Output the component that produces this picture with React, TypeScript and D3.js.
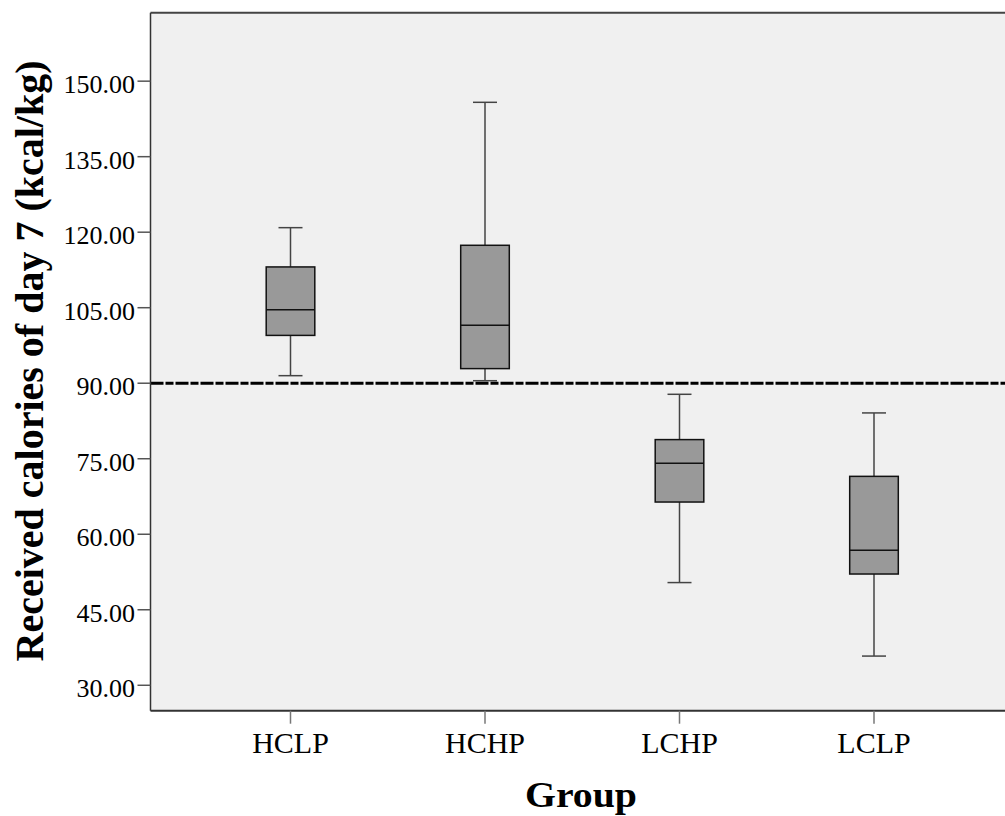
import React from 'react';
import * as d3 from 'd3';

const groups = ['HCLP', 'HCHP', 'LCHP', 'LCLP'];
const whiskerLow = [91.5, 90.5, 50.4, 35.8];
const q1 = [99.5, 92.9, 66.4, 52.1];
const medians = [104.6, 101.5, 74.1, 56.8];
const q3 = [113.1, 117.4, 78.8, 71.5];
const whiskerHigh = [120.9, 145.8, 87.8, 84.1];
const yTicks = [30, 45, 60, 75, 90, 105, 120, 135, 150];
const referenceLine = 90;

const W = 1005;
const H = 816;
const plot = { left: 150.5, top: 12.7, right: 1015, bottom: 710.7 };
const font = '"Liberation Serif", "Times New Roman", serif';

const App = () => {
  const y = d3.scaleLinear().domain([24.95, 163.6]).range([plot.bottom, plot.top]);
  const x = d3.scalePoint<string>().domain(groups).range([290.5, 874]);
  const boxW = 48.6;
  const capW = 24;

  const boxes = groups.map((g, i) => ({
    g,
    lo: whiskerLow[i],
    q1: q1[i],
    med: medians[i],
    q3: q3[i],
    hi: whiskerHigh[i],
  }));

  return (
    <svg width={W} height={H} style={{ position: 'absolute', left: 0, top: 0, background: '#fff' }}>
      {/* plot background */}
      <rect x={plot.left} y={plot.top} width={plot.right - plot.left} height={plot.bottom - plot.top} fill="#f0f0f0" />

      {/* boxes */}
      {boxes.map(b => {
        const cx = x(b.g) as number;
        return (
          <g key={b.g}>
            <line x1={cx} x2={cx} y1={y(b.hi)} y2={y(b.q3)} stroke="#444" strokeWidth={1.5} />
            <line x1={cx} x2={cx} y1={y(b.q1)} y2={y(b.lo)} stroke="#444" strokeWidth={1.5} />
            <line x1={cx - capW / 2} x2={cx + capW / 2} y1={y(b.hi)} y2={y(b.hi)} stroke="#444" strokeWidth={1.5} />
            <line x1={cx - capW / 2} x2={cx + capW / 2} y1={y(b.lo)} y2={y(b.lo)} stroke="#444" strokeWidth={1.5} />
            <rect x={cx - boxW / 2} y={y(b.q3)} width={boxW} height={y(b.q1) - y(b.q3)} fill="#999" stroke="#111" strokeWidth={1.5} />
            <line x1={cx - boxW / 2} x2={cx + boxW / 2} y1={y(b.med)} y2={y(b.med)} stroke="#111" strokeWidth={1.5} />
          </g>
        );
      })}

      {/* reference line */}
      <line
        x1={plot.left}
        x2={plot.right}
        y1={y(referenceLine)}
        y2={y(referenceLine)}
        stroke="#000"
        strokeWidth={3}
        strokeDasharray="13 2 8 2"
      />

      {/* frame */}
      <line x1={plot.left} x2={plot.right} y1={plot.top} y2={plot.top} stroke="#444" strokeWidth={2} />
      <line x1={plot.left} x2={plot.right} y1={plot.bottom} y2={plot.bottom} stroke="#333" strokeWidth={2} />
      <line x1={plot.left} x2={plot.left} y1={plot.top} y2={plot.bottom} stroke="#333" strokeWidth={1.5} />

      {/* y ticks */}
      {yTicks.map(t => (
        <g key={t}>
          <line x1={plot.left - 13} x2={plot.left} y1={y(t)} y2={y(t)} stroke="#555" strokeWidth={1.5} />
          <text x={135} y={y(t) + 12} textAnchor="end" fontFamily={font} fontSize={26} fill="#000">
            {d3.format('.2f')(t)}
          </text>
        </g>
      ))}

      {/* x ticks */}
      {groups.map(g => (
        <g key={g}>
          <line x1={x(g)} x2={x(g)} y1={plot.bottom} y2={plot.bottom + 13} stroke="#777" strokeWidth={1.5} />
          <text x={x(g)} y={753} textAnchor="middle" fontFamily={font} fontSize={30} fill="#000">
            {g}
          </text>
        </g>
      ))}

      {/* axis titles */}
      <text
        x={581}
        y={807}
        textAnchor="middle"
        fontFamily={font}
        fontWeight="bold"
        fontSize={35}
        textLength={112}
        lengthAdjust="spacingAndGlyphs"
      >
        Group
      </text>
      <text
        transform={`translate(43, 361) rotate(-90)`}
        textAnchor="middle"
        fontFamily={font}
        fontWeight="bold"
        fontSize={40}
        textLength={601}
        lengthAdjust="spacingAndGlyphs"
      >
        Received calories of day 7 (kcal/kg)
      </text>
    </svg>
  );
};

export default App;
